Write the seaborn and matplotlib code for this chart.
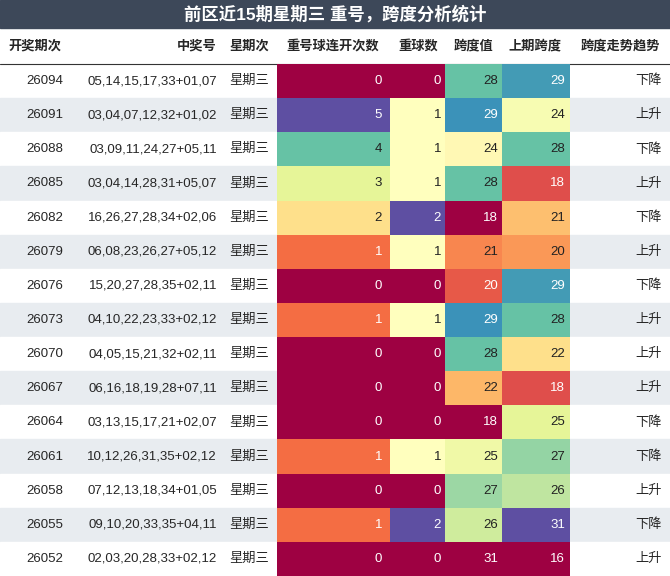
import numpy as np
import matplotlib
matplotlib.use("Agg")
import matplotlib.pyplot as plt
import seaborn as sns
from matplotlib.patches import Rectangle

sns.set_style("white")
plt.rcParams['font.family'] = ['Liberation Sans', 'Noto Sans CJK SC', 'DejaVu Sans']

title = "前区近15期星期三 重号，跨度分析统计"
headers = ["开奖期次", "中奖号", "星期次", "重号球连开次数", "重球数", "跨度值", "上期跨度", "跨度走势趋势"]
issues = ["26094", "26091", "26088", "26085", "26082", "26079", "26076", "26073",
          "26070", "26067", "26064", "26061", "26058", "26055", "26052"]
numbers = ["05,14,15,17,33+01,07", "03,04,07,12,32+01,02", "03,09,11,24,27+05,11",
           "03,04,14,28,31+05,07", "16,26,27,28,34+02,06", "06,08,23,26,27+05,12",
           "15,20,27,28,35+02,11", "04,10,22,23,33+02,12", "04,05,15,21,32+02,11",
           "06,16,18,19,28+07,11", "03,13,15,17,21+02,07", "10,12,26,31,35+02,12",
           "07,12,13,18,34+01,05", "09,10,20,33,35+04,11", "02,03,20,28,33+02,12"]
weekday = ["星期三"] * 15
repeat_streak = [0, 5, 4, 3, 2, 1, 0, 1, 0, 0, 0, 1, 0, 1, 0]
repeat_count = [0, 1, 1, 1, 2, 1, 0, 1, 0, 0, 0, 1, 0, 2, 0]
span = [28, 29, 24, 28, 18, 21, 20, 29, 28, 22, 18, 25, 27, 26, 31]
prev_span = [29, 24, 28, 18, 21, 20, 29, 28, 22, 18, 25, 27, 26, 31, 16]
trend = ["下降", "上升", "下降", "上升", "下降", "上升", "下降", "上升",
         "上升", "上升", "下降", "下降", "上升", "下降", "上升"]

W, H = 670, 576
fig = plt.figure(figsize=(W / 100, H / 100), dpi=100)
top_h, head_h = 28, 36
row_h = (H - top_h - head_h) / 15

def fx(px): return px / W
def fy(py): return 1 - py / H

# title bar
fig.patches.append(Rectangle((0, fy(top_h)), 1, top_h / H, transform=fig.transFigure,
                             color="#3d4859", zorder=-2))
fig.text(0.5, fy(top_h / 2), title, color="white", fontsize=12.5, fontweight="bold",
         ha="center", va="center")

# row stripes
for i in range(15):
    y0 = top_h + head_h + i * row_h
    c = "white" if i % 2 == 0 else "#e8ecf0"
    fig.patches.append(Rectangle((0, fy(y0 + row_h)), 1, row_h / H, transform=fig.transFigure,
                                 color=c, zorder=-2))
fig.lines.append(plt.Line2D([0, 1], [fy(top_h + head_h)] * 2, transform=fig.transFigure,
                            color="#333333", lw=0.8))

# headers
hx = [(8, "left"), (217, "right"), (249, "center"), (333, "center"), (418, "center"),
      (473, "center"), (535, "center"), (620, "center")]
for (x, ha), h in zip(hx, headers):
    fig.text(fx(x), fy(top_h + head_h / 2), h, fontsize=9.5, fontweight="bold",
             ha=ha, va="center")

# text columns
for i in range(15):
    yc = fy(top_h + head_h + (i + 0.5) * row_h)
    fig.text(fx(63), yc, issues[i], fontsize=9.5, ha="right", va="center")
    fig.text(fx(217), yc, numbers[i], fontsize=9.5, ha="right", va="center")
    fig.text(fx(249), yc, weekday[i], fontsize=9.5, ha="center", va="center")
    fig.text(fx(662), yc, trend[i], fontsize=9.5, ha="right", va="center")

# heatmap columns
span_cmap = plt.get_cmap("Spectral").copy()
span_cmap.set_over("#9e0142")
cols = [
    (repeat_streak, 277, 390, 0, 5, plt.get_cmap("Spectral")),
    (repeat_count, 390, 445, 0, 2, plt.get_cmap("Spectral")),
    (span, 445, 502, 18, 30.5, span_cmap),
    (prev_span, 502, 570, 16, 31, plt.get_cmap("Spectral")),
]
y_top = top_h + head_h
for vals, x0, x1, vmin, vmax, cmap in cols:
    ax = fig.add_axes([fx(x0), fy(H), (x1 - x0) / W, (H - y_top) / H], zorder=5)
    arr = np.array(vals, dtype=float).reshape(-1, 1)
    sns.heatmap(arr, ax=ax, cmap=cmap, vmin=vmin, vmax=vmax, cbar=False,
                xticklabels=False, yticklabels=False)
    norm = plt.Normalize(vmin, vmax)
    for i, v in enumerate(vals):
        r, g, b, _ = cmap(norm(v))
        lum = 0.299 * r + 0.587 * g + 0.114 * b
        ax.text(0.93, i + 0.5, str(v), ha="right", va="center", fontsize=9.5,
                color="white" if lum < 0.6 else "#222222")
    ax.axis("off")

fig.savefig("out.png", dpi=100)
